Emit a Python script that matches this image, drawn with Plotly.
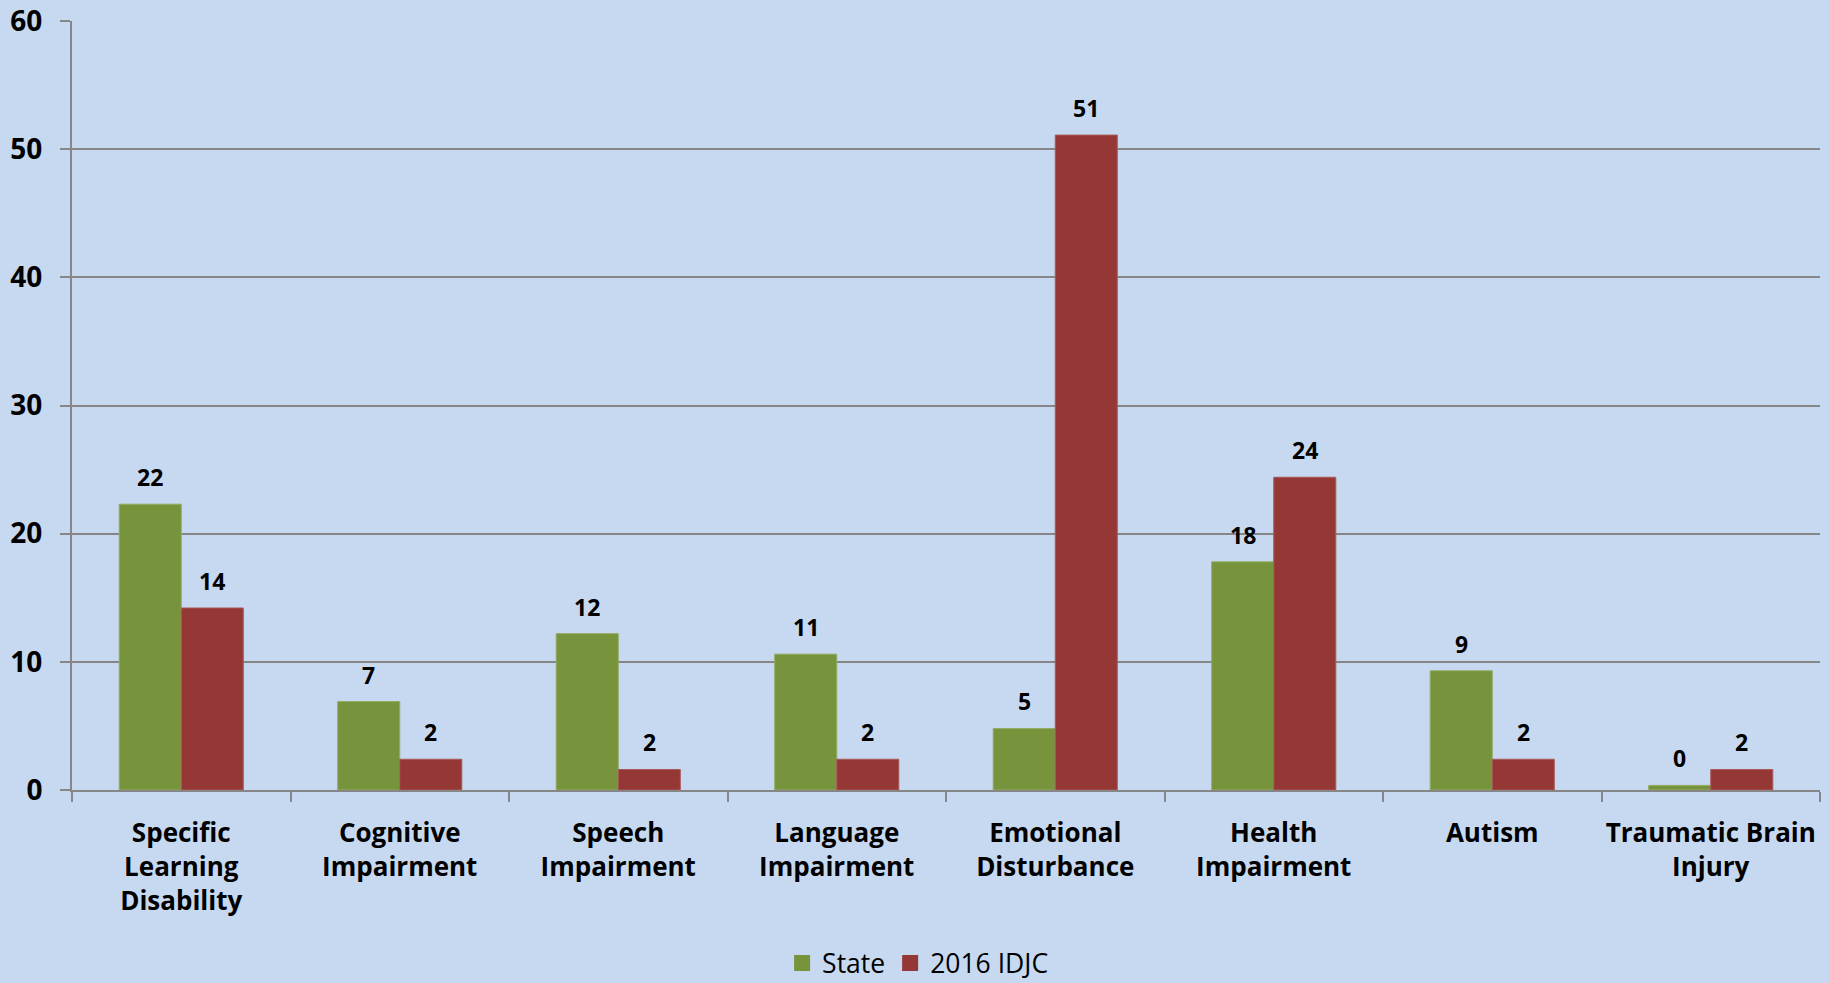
import plotly.graph_objects as go

categories = ["Specific<br>Learning<br>Disability", "Cognitive<br>Impairment", "Speech<br>Impairment",
              "Language<br>Impairment", "Emotional<br>Disturbance", "Health<br>Impairment",
              "Autism", "Traumatic Brain<br>Injury"]
state = [22.3, 6.9, 12.2, 10.6, 4.8, 17.8, 9.3, 0.36]
idjc = [14.2, 2.4, 1.6, 2.4, 51.1, 24.4, 2.4, 1.6]
y_ticks = [0, 10, 20, 30, 40, 50, 60]
series_names = ["State", "2016 IDJC"]

GREEN = "#77933C"
RED = "#953735"
BG = "#C6D9F1"
GRID = "#868686"
FONT = "Open Sans"

fig = go.Figure()
fig.add_trace(go.Bar(x=categories, y=state, name=series_names[0], showlegend=False,
                     marker=dict(color=GREEN, line=dict(color="#93AC63", width=1))))
fig.add_trace(go.Bar(x=categories, y=idjc, name=series_names[1], showlegend=False,
                     marker=dict(color=RED, line=dict(color="#A85A58", width=1))))
# legend entries with larger square swatches
for nm, col in zip(series_names, (GREEN, RED)):
    fig.add_trace(go.Scatter(x=[None], y=[None], mode="markers", name=nm,
                             marker=dict(symbol="square", size=18, color=col)))

annotations = []
for series, shift in ((state, -31), (idjc, 31)):
    for c, v in zip(categories, series):
        annotations.append(dict(x=c, y=v, xref="x", yref="y", text=f"{v:.0f}", showarrow=False,
                                xshift=shift, yshift=9, yanchor="bottom",
                                font=dict(family=FONT, size=23, color="black", weight="bold")))

fig.update_layout(
    width=1829, height=983,
    paper_bgcolor=BG, plot_bgcolor=BG,
    margin=dict(l=72, r=9, t=21, b=193, autoexpand=False),
    barmode="group", bargap=0.432, bargroupgap=0,
    font=dict(family=FONT, color="black"),
    showlegend=True,
    legend=dict(orientation="h", xref="container", yref="container", x=0.5017, xanchor="center",
                y=0.02, yanchor="middle", font=dict(family=FONT, size=26.5, color="black"),
                itemwidth=30, traceorder="normal", bgcolor="rgba(0,0,0,0)"),
    annotations=annotations,
)
fig.update_yaxes(range=[0, 60], tickvals=y_ticks, showgrid=True, gridcolor=GRID, gridwidth=2,
                 showline=True, linecolor=GRID, linewidth=2, ticks="outside", ticklen=10,
                 tickcolor=GRID, tickwidth=2, zeroline=False, ticklabelstandoff=12,
                 automargin=False,
                 tickfont=dict(family=FONT, size=28, color="black", weight="bold"))
fig.update_xaxes(showline=True, linecolor=GRID, linewidth=2, ticks="outside", ticklen=10,
                 tickcolor=GRID, tickwidth=2, tickson="boundaries", showgrid=False,
                 ticklabelstandoff=19, tickangle=0, automargin=False,
                 tickfont=dict(family=FONT, size=26, color="black", weight="bold"))

fig.write_html("out.html", config={"displayModeBar": False},
               post_script="document.body.style.margin='0';document.body.style.overflow='hidden';")
